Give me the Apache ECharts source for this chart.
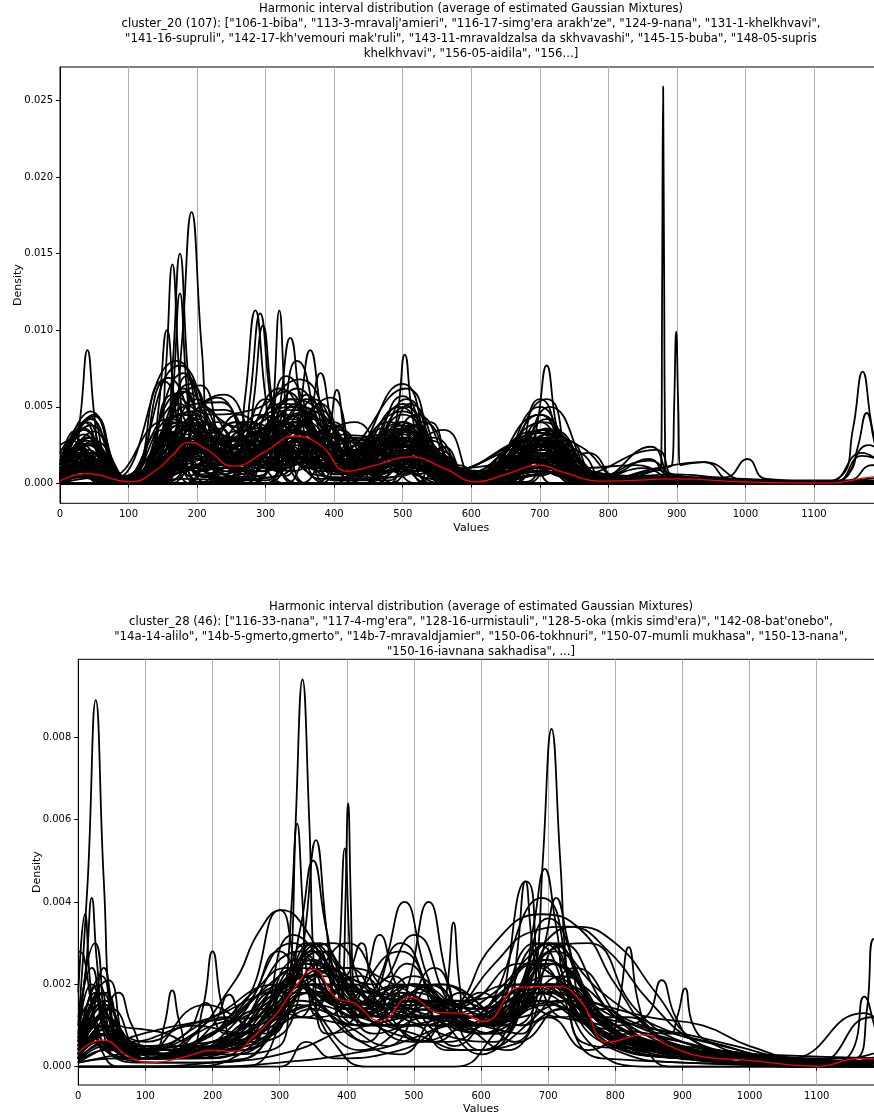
<!DOCTYPE html>
<html>
<head>
<meta charset="utf-8">
<script src="https://cdn.jsdelivr.net/npm/echarts@6/dist/echarts.min.js"></script>
<style>html,body{margin:0;padding:0;background:#fff}#c{width:874px;height:1115px}</style>
</head>
<body>
<div id="c"></div>
<script>
const titleTop = [
  'Harmonic interval distribution (average of estimated Gaussian Mixtures)',
  'cluster_20 (107): ["106-1-biba", "113-3-mravalj\'amieri", "116-17-simg\'era arakh\'ze", "124-9-nana", "131-1-khelkhvavi",',
  '"141-16-supruli", "142-17-kh\'vemouri mak\'ruli", "143-11-mravaldzalsa da skhvavashi", "145-15-buba", "148-05-supris',
  'khelkhvavi", "156-05-aidila", "156...]'
];
const titleBottom = [
  'Harmonic interval distribution (average of estimated Gaussian Mixtures)',
  'cluster_28 (46): ["116-33-nana", "117-4-mg\'era", "128-16-urmistauli", "128-5-oka (mkis simd\'era)", "142-08-bat\'onebo",',
  '"14a-14-alilo", "14b-5-gmerto,gmerto", "14b-7-mravaldjamier", "150-06-tokhnuri", "150-07-mumli mukhasa", "150-13-nana",',
  '"150-16-iavnana sakhadisa", ...]'
];
const xTicks = [0,100,200,300,400,500,600,700,800,900,1000,1100,1200];
const yTicksTop = [0, 0.005, 0.010, 0.015, 0.020, 0.025];
const yTicksBottom = [0, 0.002, 0.004, 0.006, 0.008];

// cluster_20 — prominent mixtures
const topPeakCurves = [
  [[0,.0002],[50,.0006],[110,.0002],[160,.0010],[177,.0087],[192,.0177],[207,.0087],[224,.0012],[260,.0016],[330,.0030],[400,.0010],[480,.0020],[540,.0008],[620,.0003],[700,.0015],[780,.0002],[1200,.0001]],
  [[0,.0004],[40,.0012],[90,.0002],[150,.0005],[164,.0075],[175,.0150],[186,.0075],[200,.0006],[240,.0010],[290,.0030],[350,.0040],[420,.0008],[500,.0025],[600,.0002],[700,.0020],[800,.0001],[1200,0]],
  [[0,.0010],[30,.0022],[80,.0003],[140,.0004],[154,.0072],[164,.0143],[174,.0072],[188,.0005],[230,.0015],[300,.0045],[345,.0050],[400,.0015],[510,.0030],[600,.0003],[690,.0025],[780,.0003],[1200,0]],
  [[0,.0002],[45,.0030],[90,.0002],[150,.0004],[165,.0062],[175,.0124],[185,.0062],[200,.0005],[260,.0008],[335,.0055],[410,.0010],[500,.0040],[580,.0004],[710,.0035],[800,.0002],[1200,0]],
  [[0,.0012],[20,.0034],[40,.0015],[100,.0002],[130,.0010],[144,.0050],[156,.0100],[168,.0050],[185,.0010],[260,.0020],[320,.0040],[380,.0020],[450,.0010],[500,.0035],[560,.0010],[650,.0004],[700,.0030],[760,.0005],[900,.0002],[1200,0]],
  [[0,.0003],[45,.0043],[80,.0005],[130,.0003],[180,.0060],[230,.0010],[255,.0012],[270,.0056],[285,.0113],[300,.0056],[318,.0008],[350,.0030],[430,.0005],[500,.0040],[560,.0008],[700,.0025],[780,.0002],[1200,0]],
  [[0,.0008],[40,.0040],[80,.0003],[150,.0030],[185,.0070],[230,.0015],[262,.0012],[277,.0055],[292,.0111],[307,.0055],[325,.0010],[360,.0040],[430,.0010],[505,.0050],[570,.0008],[700,.0030],[780,.0003],[1200,0]],
  [[0,.0015],[50,.0045],[90,.0003],[160,.0050],[205,.0064],[245,.0010],[266,.0010],[282,.0052],[296,.0103],[310,.0052],[328,.0010],[370,.0055],[440,.0012],[510,.0030],[600,.0004],[705,.0040],[790,.0002],[1200,0]],
  [[0,.0005],[35,.0035],[80,.0003],[170,.0080],[225,.0035],[280,.0025],[304,.0010],[312,.0056],[320,.0113],[328,.0056],[336,.0012],[380,.0030],[450,.0010],[500,.0025],[600,.0002],[690,.0020],[780,.0002],[1200,0]],
  [[0,.0004],[40,.0025],[90,.0003],[175,.0077],[240,.0030],[290,.0025],[305,.0012],[320,.0048],[336,.0095],[352,.0048],[372,.0010],[420,.0015],[500,.0065],[560,.0010],[650,.0006],[700,.0055],[770,.0003],[1200,0]],
  [[0,.0002],[40,.0030],[100,.0002],[180,.0060],[240,.0040],[300,.0030],[330,.0015],[348,.0044],[365,.0087],[382,.0044],[400,.0010],[450,.0020],[500,.0057],[560,.0010],[650,.0008],[715,.0050],[790,.0004],[862,.0024],[900,.0003],[1200,0]],
  [[0,.0010],[40,.0020],[100,.0003],[158,.0069],[230,.0020],[300,.0035],[345,.0020],[362,.0036],[380,.0072],[398,.0036],[420,.0008],[480,.0030],[540,.0020],[620,.0002],[700,.0033],[780,.0003],[1200,0]],
  [[0,.0003],[50,.0015],[100,.0002],[150,.0067],[200,.0030],[260,.0015],[330,.0040],[380,.0012],[392,.0030],[404,.0061],[416,.0030],[430,.0006],[500,.0052],[570,.0008],[700,.0028],[760,.0020],[800,.0002],[1200,0]],
  [[0,.0002],[40,.0015],[100,.0002],[180,.0050],[235,.0053],[280,.0020],[340,.0050],[410,.0010],[470,.0010],[491,.0042],[503,.0084],[515,.0042],[535,.0008],[600,.0002],[700,.0045],[780,.0003],[1200,0]],
  [[0,.0006],[45,.0047],[100,.0002],[180,.0045],[250,.0015],[330,.0060],[400,.0010],[500,.0047],[580,.0006],[680,.0010],[696,.0038],[710,.0077],[724,.0038],[742,.0006],[800,.0002],[1200,0]],
  [[0,.0001],[40,.0010],[100,.0001],[180,.0030],[260,.0012],[340,.0035],[420,.0008],[500,.0025],[600,.0002],[700,.0020],[790,.0002],[860,.0008],[877,.0010],[878.5,.0130],[880,.0259],[881.5,.0130],[883,.0010],[900,.0005],[1000,.0001],[1200,0]],
  [[0,.0003],[40,.0012],[100,.0001],[185,.0035],[260,.0010],[345,.0040],[420,.0010],[510,.0030],[600,.0003],[700,.0025],[790,.0003],[870,.0010],[893,.0012],[896,.0050],[899,.0099],[902,.0050],[905,.0012],[940,.0014],[1000,.0002],[1200,0]],
  [[0,.0015],[40,.0020],[100,.0002],[180,.0035],[260,.0010],[340,.0040],[420,.0010],[500,.0030],[600,.0003],[700,.0020],[800,.0002],[1100,.0001],[1140,.0005],[1157,.0036],[1171,.0073],[1185,.0036],[1200,.0010]],
  [[0,.0008],[40,.0030],[100,.0002],[175,.0040],[260,.0012],[330,.0035],[420,.0010],[500,.0030],[600,.0002],[700,.0030],[800,.0002],[1120,.0001],[1150,.0006],[1164,.0024],[1177,.0046],[1190,.0024],[1200,.0012]],
  [[0,.0003],[20,.0015],[30,.0045],[40,.0087],[50,.0045],[62,.0008],[100,.0002],[180,.0045],[260,.0015],[330,.0045],[420,.0010],[500,.0030],[600,.0003],[705,.0035],[790,.0002],[1200,0]]
];
// cluster_20 — the dense low mixtures
const topMassCurves = [
  [[0,.0020],[20,.0030],[55,.0010],[100,.0002],[185,.0040],[250,.0020],[330,.0045],[410,.0015],[490,.0035],[560,.0010],[610,.0002],[690,.0030],[760,.0008],[830,.0003],[1000,.0001],[1200,.0002]],
  [[0,.0005],[50,.0044],[90,.0005],[130,.0003],[200,.0055],[250,.0030],[310,.0035],[360,.0055],[420,.0015],[470,.0020],[520,.0045],[580,.0010],[640,.0004],[700,.0035],[750,.0016],[800,.0003],[1200,0]],
  [[0,.0010],[35,.0032],[80,.0004],[120,.0003],[165,.0058],[220,.0045],[280,.0048],[350,.0068],[420,.0020],[480,.0040],[540,.0015],[610,.0002],[680,.0025],[720,.0030],[790,.0004],[1200,0]],
  [[0,.0002],[25,.0020],[70,.0004],[140,.0012],[200,.0030],[270,.0022],[340,.0055],[395,.0040],[440,.0012],[505,.0028],[580,.0006],[650,.0006],[705,.0028],[780,.0004],[860,.0015],[900,.0004],[1200,0]],
  [[0,.0012],[45,.0038],[100,.0003],[170,.0035],[240,.0058],[290,.0030],[345,.0062],[400,.0025],[460,.0015],[515,.0038],[580,.0008],[650,.0010],[700,.0040],[760,.0010],[840,.0012],[900,.0003],[1200,0]],
  [[0,.0003],[40,.0018],[90,.0002],[150,.0020],[190,.0047],[240,.0025],[300,.0032],[350,.0046],[400,.0018],[450,.0020],[505,.0055],[560,.0015],[620,.0004],[700,.0033],[760,.0024],[820,.0004],[1200,0]],
  [[0,.0025],[15,.0028],[60,.0008],[110,.0003],[180,.0025],[230,.0040],[290,.0025],[340,.0035],[380,.0052],[430,.0012],[490,.0025],[540,.0028],[600,.0005],[680,.0020],[720,.0035],[790,.0005],[970,.0004],[1003,.0016],[1030,.0003],[1200,0]],
  [[0,.0006],[30,.0026],[80,.0003],[140,.0015],[195,.0038],[260,.0012],[320,.0052],[380,.0045],[450,.0008],[500,.0032],[560,.0006],[640,.0003],[700,.0022],[790,.0002],[940,.0014],[980,.0002],[1200,0]],
  [[0,.0008],[45,.0042],[95,.0003],[160,.0018],[210,.0050],[260,.0028],[320,.0062],[375,.0030],[420,.0022],[480,.0022],[530,.0040],[590,.0005],[660,.0015],[710,.0042],[770,.0005],[1200,0]],
  [[0,.0004],[35,.0036],[85,.0004],[130,.0006],[175,.0052],[225,.0022],[270,.0040],[340,.0033],[400,.0032],[460,.0030],[500,.0020],[560,.0010],[620,.0004],[700,.0045],[760,.0006],[870,.0022],[900,.0004],[1200,0]],
  [[0,.0018],[40,.0010],[100,.0004],[160,.0030],[210,.0040],[270,.0015],[330,.0040],[360,.0058],[410,.0010],[470,.0030],[520,.0020],[600,.0003],[670,.0025],[740,.0020],[800,.0004],[1120,.0001],[1170,.0020],[1200,.0012]],
  [[0,.0003],[40,.0022],[90,.0002],[150,.0028],[180,.0062],[230,.0018],[300,.0042],[340,.0048],[390,.0038],[440,.0018],[500,.0045],[560,.0012],[620,.0003],[700,.0050],[770,.0004],[1200,0]],
  [[0,.0015],[30,.0008],[90,.0005],[170,.0020],[230,.0028],[300,.0028],[350,.0045],[420,.0028],[470,.0028],[510,.0052],[580,.0006],[650,.0005],[695,.0028],[750,.0012],[800,.0004],[1130,.0001],[1180,.0025],[1200,.0020]],
  [[0,.0009],[40,.0030],[90,.0002],[140,.0008],[185,.0032],[235,.0012],[290,.0020],[330,.0070],[380,.0030],[420,.0012],[495,.0050],[560,.0010],[640,.0003],[710,.0032],[780,.0003],[1200,0]],
  [[0,.0002],[55,.0018],[100,.0003],[200,.0015],[260,.0030],[320,.0015],[370,.0042],[450,.0024],[500,.0018],[545,.0030],[600,.0004],[700,.0026],[800,.0006],[860,.0016],[890,.0005],[1200,0]],
  [[0,.0005],[25,.0024],[70,.0004],[160,.0042],[220,.0033],[260,.0045],[310,.0028],[345,.0080],[395,.0020],[450,.0010],[500,.0040],[560,.0009],[640,.0004],[700,.0026],[750,.0018],[800,.0003],[1200,0]],
  [[0,.0012],[40,.0026],[100,.0003],[175,.0038],[230,.0020],[280,.0015],[315,.0038],[365,.0033],[430,.0040],[480,.0018],[520,.0030],[600,.0004],[700,.0018],[800,.0003],[1200,0]],
  [[0,.0004],[50,.0028],[100,.0002],[180,.0072],[220,.0025],[270,.0030],[340,.0042],[400,.0015],[450,.0018],[500,.0038],[570,.0008],[650,.0006],[710,.0036],[780,.0004],[1130,.0001],[1170,.0018],[1200,.0015]],
  [[0,.0020],[30,.0016],[80,.0003],[150,.0012],[200,.0042],[260,.0022],[330,.0030],[395,.0056],[440,.0015],[500,.0022],[560,.0016],[600,.0003],[690,.0034],[760,.0008],[820,.0002],[1200,0]],
  [[0,.0006],[35,.0014],[90,.0003],[170,.0045],[240,.0048],[290,.0020],[350,.0038],[410,.0018],[470,.0032],[520,.0012],[600,.0003],[720,.0025],[800,.0004],[1200,0]],
  [[0,.0003],[45,.0020],[95,.0002],[150,.0035],[190,.0025],[250,.0015],[300,.0055],[350,.0030],[400,.0020],[505,.0062],[560,.0010],[640,.0004],[705,.0025],[780,.0005],[1200,0]],
  [[0,.0010],[50,.0008],[110,.0004],[180,.0028],[260,.0018],[340,.0027],[420,.0020],[500,.0028],[580,.0010],[700,.0016],[800,.0006],[900,.0004],[1000,.0003],[1100,.0001],[1200,.0004]],
  [[0,.0002],[40,.0012],[100,.0002],[190,.0065],[240,.0020],[290,.0045],[340,.0020],[380,.0048],[430,.0010],[490,.0028],[540,.0012],[620,.0003],[710,.0055],[770,.0005],[1200,0]],
  [[0,.0007],[30,.0018],[80,.0003],[140,.0010],[180,.0032],[230,.0056],[290,.0018],[345,.0052],[410,.0028],[470,.0026],[510,.0034],[580,.0006],[660,.0008],[700,.0024],[760,.0006],[1200,0]]
];
// cluster_20 — mixtures that sit near the baseline
const topLowCurves = [
  [[0,.0001],[40,.0005],[100,.0001],[170,.0020],[200,.0012],[240,.0030],[300,.0010],[340,.0038],[380,.0008],[440,.0025],[500,.0010],[540,.0020],[600,.0001],[690,.0020],[740,.0012],[800,.0001],[1200,0]],
  [[0,.0004],[30,.0010],[80,.0001],[150,.0001],[190,.0035],[230,.0002],[300,.0002],[350,.0045],[400,.0002],[480,.0002],[510,.0030],[560,.0001],[680,.0001],[710,.0028],[750,.0001],[1200,0]],
  [[0,.0002],[60,.0012],[110,.0001],[160,.0025],[210,.0015],[270,.0035],[320,.0012],[380,.0030],[430,.0005],[470,.0030],[530,.0008],[600,.0002],[650,.0018],[700,.0008],[750,.0015],[800,.0001],[1200,0]],
  [[0,.0006],[20,.0008],[70,.0002],[130,.0002],[180,.0015],[220,.0030],[260,.0008],[310,.0025],[360,.0020],[410,.0035],[460,.0005],[520,.0015],[580,.0004],[640,.0002],[700,.0015],[780,.0002],[1200,0]],
  [[0,.0001],[40,.0028],[80,.0001],[140,.0002],[175,.0025],[200,.0001],[250,.0001],[300,.0020],[330,.0005],[360,.0032],[400,.0002],[500,.0024],[560,.0002],[700,.0018],[760,.0001],[1200,0]],
  [[0,.0003],[50,.0010],[100,.0002],[200,.0022],[260,.0040],[320,.0020],[380,.0015],[420,.0030],[470,.0012],[520,.0024],[600,.0006],[660,.0012],[720,.0020],[790,.0004],[1200,0]],
  [[0,.0010],[30,.0024],[70,.0002],[140,.0004],[200,.0020],[250,.0010],[300,.0008],[340,.0028],[380,.0010],[450,.0016],[510,.0036],[560,.0004],[620,.0001],[700,.0010],[780,.0003],[1200,0]],
  [[0,.0002],[40,.0006],[100,.0001],[165,.0032],[210,.0008],[280,.0040],[330,.0018],[380,.0025],[440,.0006],[490,.0018],[540,.0008],[600,.0001],[720,.0018],[800,.0002],[1200,0]],
  [[0,.0005],[45,.0016],[100,.0001],[150,.0008],[200,.0016],[240,.0008],[300,.0015],[350,.0025],[400,.0012],[460,.0008],[510,.0020],[570,.0005],[650,.0003],[700,.0012],[760,.0004],[1200,0]],
  [[0,.0001],[30,.0004],[90,.0001],[180,.0010],[220,.0004],[290,.0005],[330,.0018],[370,.0006],[420,.0004],[500,.0015],[560,.0002],[700,.0010],[780,.0001],[1200,0]],
  [[0,.0003],[35,.0015],[80,.0002],[160,.0005],[210,.0025],[250,.0020],[300,.0045],[340,.0015],[400,.0040],[440,.0010],[490,.0015],[560,.0035],[610,.0002],[680,.0015],[720,.0010],[770,.0020],[820,.0002],[1200,0]],
  [[0,.0008],[40,.0005],[90,.0002],[170,.0012],[220,.0035],[260,.0015],[330,.0025],[370,.0015],[420,.0008],[480,.0012],[520,.0008],[580,.0012],[620,.0003],[690,.0015],[800,.0004],[900,.0006],[1000,.0002],[1200,.0001]],
  [[0,.0002],[40,.0008],[100,.0001],[180,.0003],[260,.0002],[330,.0030],[400,.0003],[470,.0004],[510,.0025],[560,.0003],[650,.0003],[700,.0025],[760,.0003],[1200,0]],
  [[0,.0012],[35,.0040],[80,.0003],[150,.0003],[185,.0028],[230,.0003],[290,.0003],[320,.0030],[360,.0010],[400,.0018],[450,.0004],[500,.0018],[560,.0004],[700,.0020],[780,.0002],[1200,0]],
  [[0,.0004],[30,.0014],[90,.0002],[190,.0018],[270,.0012],[340,.0035],[440,.0012],[500,.0020],[580,.0006],[640,.0004],[700,.0022],[790,.0004],[850,.0010],[920,.0004],[1200,0]],
  [[0,.0002],[50,.0020],[100,.0002],[170,.0030],[210,.0020],[255,.0034],[300,.0010],[345,.0040],[390,.0025],[450,.0030],[500,.0012],[550,.0022],[610,.0002],[660,.0010],[705,.0030],[770,.0005],[1200,0]],
  [[0,.0006],[40,.0008],[100,.0003],[180,.0008],[240,.0020],[300,.0012],[360,.0022],[420,.0012],[480,.0008],[520,.0012],[600,.0003],[700,.0008],[800,.0002],[1200,0]],
  [[0,.0003],[25,.0012],[70,.0002],[160,.0002],[200,.0010],[240,.0002],[320,.0005],[360,.0020],[400,.0002],[500,.0005],[540,.0012],[580,.0002],[700,.0008],[760,.0002],[1200,0]],
  [[0,.0001],[45,.0010],[100,.0001],[150,.0016],[200,.0045],[250,.0012],[290,.0022],[340,.0016],[400,.0030],[460,.0022],[520,.0026],[580,.0004],[650,.0006],[690,.0020],[740,.0028],[790,.0003],[1200,0]],
  [[0,.0015],[20,.0020],[60,.0004],[120,.0002],[180,.0018],[270,.0028],[350,.0020],[430,.0022],[500,.0016],[580,.0004],[680,.0014],[760,.0008],[850,.0004],[1000,.0002],[1150,.0002],[1185,.0012],[1200,.0010]]
];
// cluster_20 — sparse mixtures (one or two components, zero elsewhere)
const topSparseCurves = [
  [[0,0],[150,0],[180,.0022],[215,0],[300,0],[340,.0028],[390,0],[1200,0]],
  [[0,0],[200,0],[250,.0018],[300,0],[460,0],[500,.0022],[545,0],[1200,0]],
  [[0,.0005],[40,.0012],[80,0],[280,0],[320,.0035],[360,0],[650,0],[700,.0020],[750,0],[1200,0]],
  [[0,0],[120,0],[165,.0040],[210,0],[400,0],[440,.0015],[480,0],[1200,0]],
  [[0,0],[250,0],[300,.0012],[350,0],[420,0],[470,.0025],[520,0],[660,0],[710,.0030],[760,0],[1200,0]],
  [[0,0],[150,0],[200,.0012],[250,.0005],[330,.0024],[380,.0003],[500,.0008],[560,0],[1200,0]],
  [[0,.0003],[30,.0020],[70,0],[350,0],[390,.0022],[430,0],[520,0],[560,.0018],[600,0],[1200,0]],
  [[0,0],[210,0],[240,.0025],[275,0],[330,0],[360,.0015],[390,0],[480,0],[505,.0040],[530,0],[1200,0]],
  [[0,0],[130,0],[160,.0018],[190,0],[230,0],[265,.0020],[300,0],[420,0],[450,.0018],[480,0],[1200,0]],
  [[0,0],[300,0],[350,.0020],[400,.0008],[440,.0020],[490,0],[680,0],[720,.0015],[760,0],[1200,0]],
  [[0,0],[160,0],[205,.0030],[250,0],[520,0],[540,.0015],[570,0],[1200,0]],
  [[0,.0010],[20,.0015],[60,0],[270,0],[300,.0030],[340,0],[370,0],[420,.0018],[470,0],[1200,0]],
  [[0,0],[180,0],[220,.0012],[260,0],[380,0],[410,.0030],[440,0],[660,0],[690,.0025],[720,0],[1200,0]],
  [[0,0],[140,0],[170,.0010],[200,0],[300,0],[330,.0016],[360,0],[480,0],[520,.0012],[560,0],[1200,0]],
  [[0,0],[230,0],[280,.0015],[330,0],[440,0],[490,.0012],[540,0],[600,0],[650,.0010],[700,.0005],[740,.0012],[780,0],[1200,0]],
  [[0,0],[100,0],[150,.0008],[190,.0020],[230,.0008],[280,0],[1200,0]]
];
// cluster_20 — further mid-level mixtures
const topExtraCurves = [
  [[0,.0004],[40,.0015],[100,.0001],[180,.0026],[220,.0018],[260,.0008],[300,.0026],[340,.0012],[380,.0034],[420,.0004],[470,.0014],[520,.0008],[560,.0024],[600,0],[650,.0008],[700,.0018],[760,.0002],[1200,0]],
  [[0,.0002],[30,.0008],[100,0],[160,.0010],[200,.0034],[240,.0006],[280,.0018],[320,.0008],[360,.0022],[400,.0006],[440,.0008],[480,.0026],[520,.0006],[560,.0010],[600,0],[680,.0012],[720,.0016],[780,0],[1200,0]],
  [[0,0],[50,.0006],[100,0],[170,.0014],[230,.0022],[270,.0006],[310,.0016],[350,.0030],[390,.0010],[430,.0006],[460,.0020],[500,.0006],[530,.0014],[580,.0004],[620,0],[700,.0006],[760,.0010],[800,0],[1200,0]],
  [[0,.0006],[45,.0025],[100,.0001],[150,.0004],[190,.0018],[230,.0030],[270,.0014],[320,.0024],[370,.0012],[420,.0020],[460,.0008],[500,.0030],[550,.0006],[600,.0001],[710,.0012],[780,0],[1200,0]],
  [[0,.0001],[35,.0006],[90,0],[175,.0012],[210,.0004],[250,.0028],[290,.0036],[330,.0010],[360,.0026],[400,.0038],[440,.0014],[480,.0004],[530,.0016],[580,0],[680,.0008],[730,.0024],[790,.0002],[1200,0]],
  [[0,.0009],[30,.0012],[80,.0001],[150,.0020],[200,.0008],[240,.0012],[300,.0004],[345,.0018],[380,.0028],[430,.0020],[470,.0036],[510,.0018],[560,.0004],[620,0],[690,.0006],[740,.0008],[800,0],[1200,0]],
  [[0,.0003],[40,.0030],[90,.0001],[185,.0010],[230,.0016],[275,.0026],[310,.0010],[350,.0016],[410,.0008],[450,.0012],[500,.0016],[540,.0040],[580,.0004],[640,0],[695,.0014],[760,.0004],[1200,0]],
  [[0,0],[60,.0004],[110,0],[165,.0016],[215,.0024],[255,.0040],[300,.0016],[340,.0008],[375,.0018],[410,.0026],[450,.0002],[490,.0010],[530,.0004],[600,0],[690,.0028],[740,.0004],[800,.0002],[1200,0]],
  [[0,.0013],[20,.0018],[60,.0001],[130,.0001],[180,.0008],[220,.0015],[260,.0024],[310,.0034],[350,.0018],[390,.0012],[430,.0030],[480,.0016],[520,.0010],[570,.0012],[600,0],[660,.0006],[710,.0016],[760,.0010],[800,0],[1200,0]],
  [[0,.0002],[35,.0010],[80,0],[160,.0006],[195,.0024],[235,.0036],[270,.0008],[330,.0010],[360,.0014],[405,.0006],[450,.0024],[500,.0036],[545,.0012],[590,.0002],[650,.0004],[700,.0014],[740,.0006],[790,0],[1200,0]],
  [[0,.0004],[50,.0034],[95,.0001],[150,.0010],[200,.0022],[260,.0018],[300,.0008],[330,.0022],[380,.0018],[420,.0008],[460,.0006],[500,.0012],[550,.0020],[600,.0001],[700,.0026],[770,.0002],[1200,0]],
  [[0,.0001],[25,.0004],[80,0],[170,.0034],[200,.0012],[240,.0004],[280,.0012],[320,.0022],[365,.0010],[400,.0016],[440,.0026],[480,.0008],[520,.0018],[570,.0008],[620,0],[680,.0016],[730,.0020],[780,.0002],[1200,0]],
  [[0,.0007],[40,.0010],[90,0],[145,.0008],[180,.0020],[225,.0012],[265,.0020],[300,.0014],[340,.0030],[380,.0014],[425,.0010],[465,.0016],[510,.0022],[560,.0016],[600,.0002],[650,.0004],[700,.0008],[760,.0003],[1200,0]],
  [[0,.0002],[30,.0018],[70,.0002],[140,.0002],[190,.0026],[235,.0010],[275,.0016],[315,.0028],[355,.0012],[395,.0008],[430,.0016],[470,.0010],[510,.0016],[550,.0008],[600,0],[670,.0020],[720,.0006],[790,0],[1200,0]]
];
const topAverage = [[0,.00017],[39,.00065],[102,.00011],[141,.0009],[165,.0019],[188,.00268],[215,.0022],[253,.00113],[300,.0021],[342,.0031],[380,.0025],[420,.0008],[460,.0012],[511,.00174],[560,.0010],[608,.00011],[650,.0006],[701,.0012],[730,.0008],[793,.00015],[900,.0003],[1000,.0001],[1119,.00002],[1187,.00043],[1200,.00045]];

// cluster_28 — prominent mixtures
const bottomPeakCurves = [
  [[0,.0010],[14,.0045],[26,.0089],[38,.0045],[52,.0008],[80,.0002],[200,.0003],[300,.0015],[350,.0020],[420,.0010],[500,.0012],[600,.0008],[700,.0015],[800,.0005],[900,.0002],[1100,0],[1200,.0002]],
  [[0,.0008],[12,.0025],[20,.0041],[28,.0025],[40,.0010],[70,.0003],[200,.0005],[330,.0028],[400,.0015],[500,.0020],[600,.0010],[690,.0030],[780,.0008],[900,.0003],[1100,0],[1200,.0003]],
  [[0,.0018],[10,.0037],[18,.0020],[30,.0008],[60,.0004],[150,.0003],[250,.0008],[340,.0025],[430,.0018],[520,.0015],[620,.0010],[700,.0025],[800,.0010],[900,.0004],[1100,.0001],[1200,.0004]],
  [[0,.0028],[8,.0027],[20,.0015],[40,.0004],[100,.0002],[200,.0008],[300,.0022],[380,.0030],[450,.0015],[540,.0020],[640,.0012],[720,.0022],[820,.0006],[950,.0002],[1200,.0001]],
  [[0,.0003],[20,.0012],[38,.0024],[55,.0012],[80,.0004],[150,.0003],[230,.0010],[320,.0030],[370,.0020],[430,.0015],[490,.0025],[560,.0005],[660,.0020],[740,.0015],[830,.0006],[950,.0003],[1100,0],[1200,.0002]],
  [[0,.0005],[30,.0010],[60,.0018],[80,.0010],[110,.0003],[200,.0006],[280,.0012],[350,.0028],[420,.0012],[480,.0018],[560,.0010],[640,.0014],[710,.0028],[790,.0010],[860,.0006],[1000,.0002],[1200,.0001]],
  [[0,.0004],[40,.0012],[90,.0003],[115,.0004],[128,.0010],[140,.00185],[152,.0010],[170,.0004],[240,.0008],[330,.0024],[400,.0020],[470,.0012],[540,.0016],[630,.0010],[700,.0018],[800,.0010],[900,.0004],[1200,.0001]],
  [[0,.0002],[30,.0015],[80,.0004],[160,.0004],[185,.0014],[200,.0028],[215,.0014],[240,.0004],[300,.0010],[360,.0025],[430,.0012],[500,.0016],[580,.0012],[680,.0020],[780,.0008],[880,.0005],[1000,.0002],[1200,.0001]],
  [[0,.0006],[35,.0022],[70,.0005],[150,.0005],[200,.0010],[225,.00175],[250,.0010],[290,.0012],[340,.0030],[400,.0018],[460,.0012],[520,.0020],[600,.0010],[680,.0030],[760,.0010],[850,.0005],[1000,.0002],[1200,.0002]],
  [[0,.0001],[40,.0006],[100,.0005],[160,.0008],[190,.00155],[220,.0008],[270,.0010],[330,.0020],[400,.0024],[470,.0020],[540,.0014],[620,.0010],[700,.0020],[780,.0012],[860,.0006],[1000,.0002],[1200,.0001]],
  [[0,.0001],[60,.0003],[150,.0006],[230,.0020],[270,.0033],[303,.0038],[340,.0033],[380,.0020],[430,.0012],[500,.0006],[580,.0010],[680,.0016],[760,.0010],[850,.0004],[1000,.0001],[1200,.0001]],
  [[0,.0004],[30,.0020],[70,.0003],[200,.0003],[300,.0005],[315,.0020],[324,.0060],[334,.0094],[344,.0060],[353,.0020],[370,.0008],[430,.0010],[500,.0015],[600,.0010],[700,.0020],[800,.0006],[900,.0003],[1100,0],[1200,.0001]],
  [[0,.0007],[25,.0030],[60,.0004],[200,.0006],[300,.0009],[310,.0020],[318,.0040],[326,.0059],[334,.0040],[342,.0020],[360,.0012],[400,.0015],[480,.0028],[560,.0012],[650,.0013],[710,.0025],[800,.0008],[900,.0004],[1200,.0001]],
  [[0,.0002],[40,.0010],[100,.0002],[250,.0005],[320,.0012],[338,.0033],[354,.0055],[370,.0033],[388,.0012],[430,.0010],[500,.0020],[580,.0012],[690,.0041],[760,.0010],[850,.0004],[1000,.0002],[1200,.0001]],
  [[0,.0003],[50,.0014],[100,.0002],[200,.0010],[300,.0015],[330,.0033],[350,.0050],[370,.0033],[395,.0018],[440,.0015],[520,.0012],[600,.0010],[667,.0045],[700,.0015],[780,.0010],[900,.0003],[1200,.0001]],
  [[0,.0002],[30,.0008],[100,.0002],[250,.0008],[340,.0025],[380,.0015],[394,.0018],[398,.0040],[402,.0064],[406,.0040],[410,.0018],[430,.0010],[500,.0018],[600,.0010],[700,.0025],[800,.0010],[900,.0004],[1200,.0001]],
  [[0,.0009],[40,.0018],[80,.0004],[200,.0005],[300,.0018],[350,.0030],[385,.0015],[390,.0030],[397,.0053],[404,.0030],[412,.0012],[460,.0015],[540,.0020],[620,.0012],[705,.0025],[800,.0010],[900,.0005],[1200,.0001]],
  [[0,.0003],[30,.0012],[80,.0002],[200,.0004],[320,.0020],[400,.0012],[500,.0015],[600,.0010],[660,.0008],[680,.0020],[692,.0050],[705,.0082],[718,.0050],[730,.0020],[750,.0006],[850,.0004],[1000,.0001],[1200,.0001]],
  [[0,.0002],[40,.0012],[100,.0002],[220,.0006],[300,.0015],[360,.0028],[430,.0015],[500,.0020],[580,.0010],[640,.0012],[654,.0028],[666,.0045],[678,.0028],[695,.0018],[730,.0022],[780,.0010],[870,.0004],[1000,.0001],[1200,.0001]],
  [[0,.0004],[40,.0016],[90,.0002],[200,.0005],[300,.0018],[380,.0020],[450,.0012],[530,.0016],[620,.0012],[660,.0020],[678,.0034],[695,.0048],[712,.0034],[730,.0018],[780,.0008],[880,.0004],[1000,.0002],[1200,.0001]],
  [[0,.0006],[20,.0020],[60,.0005],[200,.0004],[290,.0012],[350,.0026],[420,.0014],[500,.0014],[600,.0010],[670,.0016],[695,.0030],[712,.0041],[730,.0030],[760,.0012],[820,.0006],[900,.0004],[1200,.0002]],
  [[0,.0003],[40,.0015],[90,.0002],[220,.0010],[300,.0018],[360,.0030],[420,.0018],[500,.0020],[580,.0012],[680,.0018],[760,.0010],[790,.0008],[805,.0015],[820,.0029],[835,.0015],[855,.0008],[900,.0005],[1000,.0002],[1200,.0001]],
  [[0,.0002],[30,.0010],[80,.0002],[200,.0008],[300,.0020],[380,.0022],[460,.0015],[550,.0015],[650,.0020],[720,.0020],[800,.0010],[900,.0004],[1000,.0002],[1100,.0001],[1160,.0002],[1175,.0014],[1185,.0031],[1200,.0025]]
];
// cluster_28 — broader / lower mixtures
const bottomMassCurves = [
  [[0,.0002],[50,.0006],[150,.0004],[280,.0010],[360,.0028],[420,.0018],[470,.0010],[492,.0020],[522,.0040],[552,.0020],[580,.0010],[650,.0010],[720,.0030],[800,.0012],[900,.0004],[1200,.0001]],
  [[0,.0001],[40,.0010],[100,.0003],[250,.0006],[340,.0020],[410,.0012],[450,.0022],[486,.0040],[520,.0022],[560,.0010],[620,.0008],[700,.0020],[800,.0008],[900,.0003],[1200,.0001]],
  [[0,.0004],[30,.0016],[80,.0003],[250,.0008],[330,.0026],[400,.0022],[480,.0015],[540,.0012],[550,.0020],[559,.0035],[568,.0020],[580,.0010],[640,.0012],[700,.0036],[780,.0012],[880,.0005],[1200,.0001]],
  [[0,.0002],[40,.0008],[120,.0002],[250,.0010],[330,.0022],[400,.0014],[425,.0020],[449,.0032],[473,.0020],[500,.0012],[580,.0015],[660,.0025],[740,.0018],[820,.0008],[920,.0003],[1200,.0001]],
  [[0,.0005],[40,.0015],[90,.0003],[200,.0012],[300,.0020],[370,.0018],[400,.0022],[422,.0030],[445,.0018],[500,.0012],[560,.0016],[640,.0012],[700,.0020],[770,.0012],[850,.0005],[1000,.0002],[1200,.0001]],
  [[0,.0002],[40,.0008],[100,.0003],[250,.0004],[330,.0012],[420,.0010],[500,.0010],[560,.0014],[620,.0030],[690,.0037],[750,.0033],[800,.0020],[860,.0008],[950,.0003],[1200,.0001]],
  [[0,.0001],[40,.0005],[150,.0003],[250,.0005],[350,.0015],[450,.0010],[550,.0012],[620,.0018],[680,.0028],[740,.0034],[800,.0030],[860,.0018],[920,.0006],[1000,.0002],[1200,.0001]],
  [[0,0],[200,0],[300,.0001],[400,.0003],[500,.0007],[560,.0013],[620,.0025],[680,.0033],[730,.0034],[790,.0028],[850,.0016],[920,.0006],[1000,.0002],[1200,0]],
  [[0,.0002],[50,.0010],[100,.0003],[240,.0006],[320,.0020],[400,.0015],[480,.0020],[560,.0016],[650,.0018],[720,.0020],[800,.0010],[845,.0012],[869,.0021],[890,.0012],[920,.0006],[1000,.0003],[1100,0],[1200,.0001]],
  [[0,.0004],[40,.0012],[100,.0004],[230,.0008],[310,.0018],[390,.0016],[470,.0008],[550,.0006],[640,.0016],[720,.0018],[800,.0012],[880,.0008],[892,.0012],[904,.0019],[916,.0010],[940,.0006],[1000,.0003],[1200,.0001]],
  [[0,.0005],[35,.0018],[80,.0003],[200,.0006],[300,.0016],[370,.0024],[440,.0015],[520,.0015],[600,.0012],[700,.0022],[800,.0008],[900,.0004],[1000,.0002],[1100,0],[1150,.0003],[1171,.0017],[1190,.0008],[1200,.0005]],
  [[0,.0003],[30,.0015],[60,.0010],[100,.0009],[130,.0008],[180,.0005],[260,.0006],[340,.0018],[420,.0012],[500,.0022],[580,.0010],[660,.0012],[740,.0016],[840,.0010],[940,.0006],[1050,.0002],[1200,.0001]],
  [[0,.0001],[60,.0006],[120,.0009],[200,.0012],[280,.0018],[360,.0020],[440,.0018],[520,.0016],[600,.0014],[680,.0020],[760,.0016],[850,.0012],[930,.0010],[1000,.0005],[1100,.0001],[1180,.0012],[1200,.0010]],
  [[0,.0012],[20,.0024],[40,.0010],[70,.0004],[150,.0005],[250,.0015],[300,.0028],[340,.0022],[400,.0030],[460,.0018],[530,.0012],[600,.0014],[690,.0026],[750,.0020],[820,.0010],[920,.0004],[1200,.0001]],
  [[0,0],[100,0],[200,.0001],[300,.0003],[380,.0008],[450,.0015],[520,.0016],[600,.0014],[680,.0025],[740,.0015],[800,.0006],[900,.0002],[1200,0]],
  [[0,.0007],[45,.0021],[80,.0006],[160,.0010],[240,.0014],[300,.0038],[340,.0020],[420,.0014],[480,.0030],[540,.0014],[600,.0008],[700,.0028],[760,.0030],[830,.0014],[900,.0006],[1000,.0003],[1200,.0001]],
  [[0,.0002],[30,.0006],[90,.0003],[190,.0015],[260,.0010],[320,.0032],[380,.0024],[440,.0020],[500,.0032],[560,.0014],[620,.0010],[700,.0030],[780,.0018],[860,.0010],[960,.0005],[1060,.0002],[1170,.0013],[1200,.0010]]
];
const bottomLowCurves = [
  [[0,.0002],[40,.0010],[90,.0002],[150,.0002],[230,.0004],[300,.0012],[360,.0016],[420,.0022],[480,.0012],[540,.0010],[600,.0018],[660,.0010],[720,.0014],[800,.0005],[900,.0002],[1200,0]],
  [[0,.0005],[25,.0018],[60,.0002],[150,.0001],[250,.0002],[320,.0020],[380,.0012],[430,.0006],[480,.0018],[540,.0008],[620,.0006],[700,.0030],[760,.0012],[830,.0004],[1000,.0001],[1200,0]],
  [[0,.0003],[50,.0008],[100,.0006],[170,.0010],[250,.0008],[330,.0016],[400,.0010],[460,.0005],[530,.0020],[600,.0004],[680,.0012],[740,.0024],[820,.0010],[900,.0006],[1000,.0003],[1200,.0001]],
  [[0,.0010],[15,.0015],[40,.0004],[100,.0001],[200,.0001],[280,.0006],[350,.0030],[410,.0016],[460,.0010],[520,.0014],[580,.0009],[640,.0016],[700,.0018],[780,.0006],[900,.0002],[1200,0]],
  [[0,.0001],[40,.0004],[120,.0003],[220,.0012],[280,.0008],[340,.0020],[400,.0024],[450,.0015],[510,.0006],[570,.0018],[630,.0012],[690,.0016],[760,.0010],[850,.0008],[950,.0004],[1100,.0001],[1200,.0002]],
  [[0,.0004],[35,.0012],[80,.0006],[130,.0004],[200,.0008],[280,.0014],[340,.0012],[380,.0018],[440,.0008],[500,.0010],[550,.0004],[600,.0004],[650,.0012],[710,.0030],[770,.0014],[830,.0010],[900,.0008],[980,.0005],[1060,.0002],[1200,.0001]],
  [[0,.0002],[30,.0006],[80,.0002],[180,.0006],[260,.0018],[310,.0024],[360,.0016],[410,.0020],[470,.0010],[530,.0006],[590,.0012],[650,.0006],[710,.0020],[760,.0012],[820,.0012],[880,.0006],[1000,.0002],[1200,0]],
  [[0,.0006],[20,.0012],[50,.0004],[140,.0004],[230,.0006],[290,.0010],[350,.0020],[400,.0014],[470,.0022],[520,.0010],[590,.0010],[650,.0016],[720,.0012],[780,.0014],[850,.0006],[950,.0003],[1200,.0001]],
  [[0,.0001],[60,.0002],[150,.0002],[240,.0003],[300,.0010],[350,.0014],[410,.0007],[480,.0003],[540,.0012],[600,.0010],[660,.0014],[730,.0016],[800,.0008],[900,.0004],[1000,.0002],[1100,0],[1200,.0001]],
  [[0,.0003],[45,.0014],[85,.0004],[180,.0004],[240,.0010],[290,.0018],[330,.0012],[370,.0028],[420,.0014],[470,.0012],[530,.0024],[580,.0010],[630,.0008],[680,.0020],[730,.0016],[790,.0008],[880,.0004],[1200,.0001]],
  [[0,.0002],[20,.0006],[60,0],[250,0],[330,.0015],[420,.0004],[520,.0012],[600,.0003],[700,.0020],[780,.0002],[1200,0]],
  [[0,0],[150,0],[250,.0004],[320,.0022],[380,.0006],[430,0],[560,0],[620,.0008],[700,.0026],[760,.0006],[850,0],[1200,0]],
  [[0,.0004],[40,.0009],[100,.0002],[200,.0002],[280,.0010],[350,.0018],[420,.0012],[500,.0008],[580,.0004],[660,.0006],[720,.0014],[800,.0004],[900,.0001],[1200,0]],
  [[0,0],[300,0],[340,.0006],[380,.0002],[480,.0004],[560,.0010],[640,.0004],[700,.0012],[760,.0004],[820,.0008],[880,0],[1200,0]]
];
const bottomAverage = [[0,.00034],[35,.00065],[77,.00023],[112,.0001],[161,.00025],[201,.0004],[231,.00037],[261,.00073],[296,.0013],[320,.00186],[350,.00236],[385,.00166],[410,.00155],[450,.00111],[494,.00168],[539,.00131],[569,.0013],[604,.0011],[659,.00193],[713,.00195],[748,.0016],[790,.0006],[842,.00077],[882,.00049],[931,.00024],[996,.00016],[1100,.00001],[1165,.0002],[1200,.00018]];

const FONT = '"DejaVu Sans", "Liberation Sans", sans-serif';
const chart = echarts.init(document.getElementById('c'), null, {renderer: 'canvas'});

function xAxisCfg(gi) {
  return {
    type: 'value', gridIndex: gi, min: xTicks[0], max: xTicks[xTicks.length - 1], interval: 100,
    name: 'Values', nameLocation: 'middle', nameGap: 19, nameMoveOverlap: false,
    nameTextStyle: {color: '#000', fontSize: 11, fontFamily: FONT},
    axisLine: {show: true, lineStyle: {color: '#000', width: 1}},
    axisTick: {show: true, length: 4, lineStyle: {color: '#000'}},
    axisLabel: {color: '#000', fontSize: 10, fontFamily: FONT, margin: 6, showMaxLabel: false,
      formatter: v => String(v)},
    splitLine: {show: true, lineStyle: {color: '#b0b0b0', width: 1}}
  };
}
function yAxisCfg(gi, min, max, ticks) {
  return {
    type: 'value', gridIndex: gi, min: min, max: max,
    name: 'Density', nameLocation: 'middle', nameGap: 36, nameRotate: 90, nameMoveOverlap: false,
    nameTextStyle: {color: '#000', fontSize: 11, fontFamily: FONT},
    axisLine: {show: true, lineStyle: {color: '#000', width: 1}},
    axisTick: {show: true, length: 4, lineStyle: {color: '#000'}, customValues: ticks},
    axisLabel: {color: '#000', fontSize: 10, fontFamily: FONT, margin: 7, customValues: ticks,
      formatter: v => v.toFixed(3)},
    splitLine: {show: false}
  };
}

const series = [];
function addCurves(list, gi, color, width, z) {
  list.forEach(d => series.push({
    type: 'line', xAxisIndex: gi, yAxisIndex: gi, data: d, smooth: 0.5,
    symbol: 'none', showSymbol: false, silent: true, animation: false, z: z,
    lineStyle: {color: color, width: width}
  }));
}
const LW = 1.8;
addCurves(topPeakCurves, 0, '#000', LW, 2);
addCurves(topMassCurves, 0, '#000', LW, 2);
addCurves(topLowCurves, 0, '#000', LW, 2);
addCurves(topSparseCurves, 0, '#000', LW, 2);
addCurves(topExtraCurves, 0, '#000', LW, 2);
addCurves([topAverage], 0, '#ff0000', 1.3, 5);
addCurves(bottomPeakCurves, 1, '#000', LW, 2);
addCurves(bottomMassCurves, 1, '#000', LW, 2);
addCurves(bottomLowCurves, 1, '#000', LW, 2);
addCurves([bottomAverage], 1, '#ff0000', 1.3, 5);

const graphics = [];
const titleStyle = {fill: '#000', font: '11.7px ' + FONT, align: 'center', verticalAlign: 'middle', textAlign: 'center', textVerticalAlign: 'middle'};
titleTop.forEach((t, i) => graphics.push({type: 'text', x: 471, y: 9 + i * 15, style: Object.assign({text: t}, titleStyle)}));
titleBottom.forEach((t, i) => graphics.push({type: 'text', x: 481, y: 607 + i * 15, style: Object.assign({text: t}, titleStyle)}));

chart.setOption({
  animation: false,
  backgroundColor: '#fff',
  grid: [
    {left: 60, top: 67, width: 822.5, height: 436.3, show: true, borderColor: '#000', borderWidth: 1, containLabel: false, outerBoundsMode: 'none'},
    {left: 78.3, top: 659.3, width: 805.5, height: 425.7, show: true, borderColor: '#000', borderWidth: 1, containLabel: false, outerBoundsMode: 'none'}
  ],
  xAxis: [xAxisCfg(0), xAxisCfg(1)],
  yAxis: [yAxisCfg(0, -0.00129, 0.02717, yTicksTop), yAxisCfg(1, -0.000445, 0.00989, yTicksBottom)],
  graphic: graphics,
  series: series
});
</script>
</body>
</html>
